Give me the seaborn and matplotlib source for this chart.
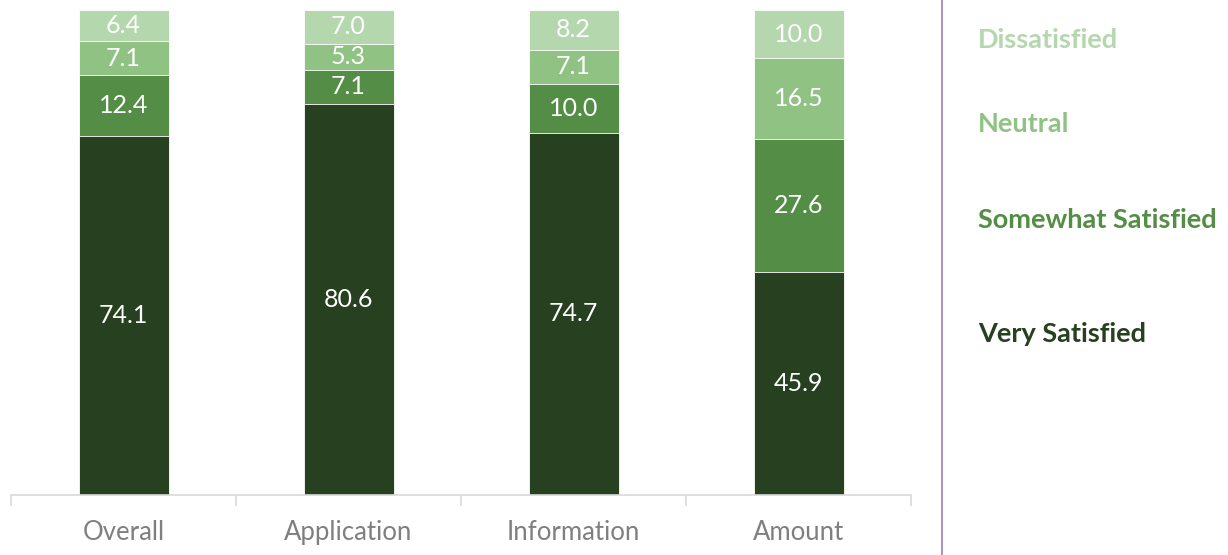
import matplotlib
matplotlib.use("Agg")
import matplotlib.pyplot as plt
import seaborn as sns
import pandas as pd
import numpy as np
from matplotlib.lines import Line2D

categories = ["Overall", "Application", "Information", "Amount"]
series_names = ["Very Satisfied", "Somewhat Satisfied", "Neutral", "Dissatisfied"]
very_satisfied = [74.1, 80.6, 74.7, 45.9]
somewhat_satisfied = [12.4, 7.1, 10.0, 27.6]
neutral = [7.1, 5.3, 7.1, 16.5]
dissatisfied = [6.4, 7.0, 8.2, 10.0]
colors = ["#274020", "#548D45", "#8FC283", "#B5D7AE"]

sns.set_theme(style="white")
plt.rcParams["font.family"] = ["Lato", "DejaVu Sans"]

W, H = 1228, 555
fig = plt.figure(figsize=(W / 100, H / 100), dpi=100)
ax = fig.add_axes([11 / W, 60 / H, 900 / W, 485 / H])

values = [very_satisfied, somewhat_satisfied, neutral, dissatisfied]
cum = np.cumsum(np.array(values), axis=0)

# draw from tallest cumulative down so lower segments overlay
for i in range(len(values) - 1, -1, -1):
    df = pd.DataFrame({"cat": categories, "val": cum[i]})
    sns.barplot(data=df, x="cat", y="val", order=categories, color=colors[i],
                width=0.4, saturation=1, edgecolor="white", linewidth=0.6, ax=ax)

# labels
for i, vals in enumerate(values):
    base = cum[i] - np.array(vals)
    for j, v in enumerate(vals):
        ax.text(j, base[j] + v / 2, f"{v:.1f}", ha="center", va="center",
                color="white", fontsize=18)

ax.set_xlim(-0.5, 3.5)
ax.set_ylim(0, 100)
ax.set_xlabel("")
ax.set_ylabel("")
ax.set_yticks([])
for s in ["top", "right", "left"]:
    ax.spines[s].set_visible(False)
ax.spines["bottom"].set_color("#D9D9D9")
ax.spines["bottom"].set_linewidth(1.2)
ax.set_xticks(range(len(categories)))
ax.set_xticklabels(categories, color="#7F7F7F", fontsize=18.5)
ax.set_xticks(np.arange(-0.5, 4, 1), minor=True)
ax.tick_params(axis="x", which="major", length=0, pad=18)
ax.tick_params(axis="x", which="minor", length=8, color="#D9D9D9", width=1.2, bottom=True)

# vertical divider line
fig.add_artist(Line2D([942 / W, 942 / W], [0, 1], color="#9B7FC0", linewidth=1.2,
                      transform=fig.transFigure))

# legend texts
leg_y = [40, 124, 220, 334]
for name, c, y in zip(series_names[::-1], colors[::-1], leg_y):
    fig.text(978 / W, 1 - y / H, name, color=c, fontsize=19.5, fontweight="bold",
             ha="left", va="center")

fig.savefig("out.png", dpi=100)
